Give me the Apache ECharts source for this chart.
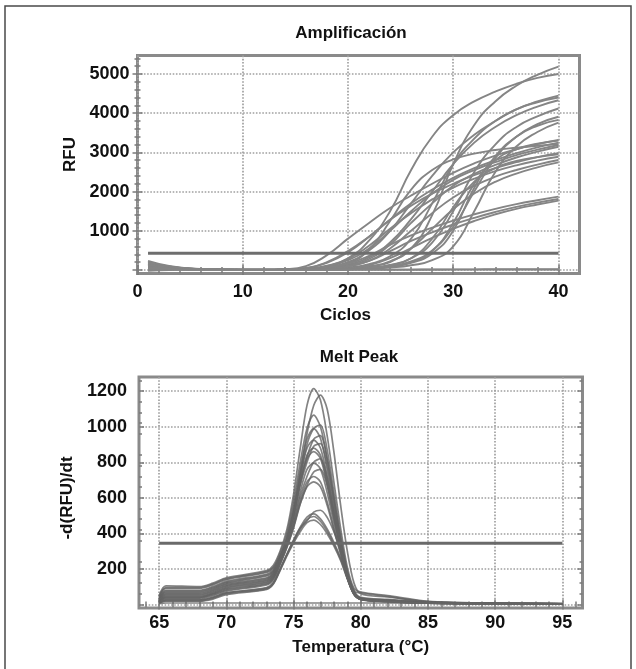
<!DOCTYPE html>
<html>
<head>
<meta charset="utf-8">
<title>Amplificación / Melt Peak</title>
<script src="https://cdn.jsdelivr.net/npm/echarts@6/dist/echarts.min.js"></script>
<style>
  html, body { margin: 0; padding: 0; background: #fff; }
  #main { width: 636px; height: 669px; }
</style>
</head>
<body>
<div id="main"></div>
<script>
// --- Amplificación: RFU por ciclo ---
const ampCycles = [1, 3, 5, 8, 12, 14, 16, 18, 20, 22, 24, 26, 28, 30, 32, 34, 36, 38, 40];
const ampCurves = [
  [150, 80, 30, 5, 5, 15, 40, 110, 300, 750, 1500, 2550, 3400, 3950, 4300, 4550, 4750, 4900, 5000],
  [100, 60, 25, 5, 0, 5, 10, 20, 40, 90, 220, 550, 1400, 2700, 3700, 4300, 4700, 4980, 5190],
  [120, 70, 30, 8, 5, 10, 30, 80, 200, 500, 1000, 1700, 2400, 3000, 3450, 3800, 4100, 4300, 4450],
  [80, 50, 20, 5, 0, 5, 10, 25, 60, 150, 350, 800, 1700, 2700, 3350, 3800, 4100, 4280, 4400],
  [60, 40, 15, 5, 0, 5, 15, 50, 130, 320, 700, 1300, 2000, 2700, 3250, 3650, 3950, 4170, 4330],
  [200, 90, 35, 8, 0, 5, 8, 15, 30, 60, 130, 300, 700, 1500, 2500, 3200, 3650, 3920, 4120],
  [90, 50, 20, 5, 0, 0, 5, 10, 25, 50, 100, 220, 500, 1100, 2000, 2850, 3400, 3720, 3910],
  [40, 30, 15, 5, 0, 0, 5, 10, 20, 40, 80, 180, 420, 1000, 2100, 2900, 3400, 3680, 3830],
  [110, 60, 25, 5, 0, 0, 5, 8, 15, 30, 60, 120, 250, 600, 1500, 2500, 3150, 3520, 3760],
  [130, 70, 25, 5, 5, 20, 100, 380, 800, 1200, 1580, 1900, 2200, 2480, 2720, 2920, 3080, 3210, 3315],
  [70, 40, 15, 5, 5, 10, 50, 180, 450, 850, 1280, 1700, 2050, 2350, 2600, 2800, 2980, 3130, 3250],
  [160, 80, 30, 8, 5, 5, 20, 80, 250, 550, 1000, 1500, 1950, 2300, 2550, 2750, 2930, 3070, 3190],
  [50, 30, 10, 3, 0, 5, 10, 40, 110, 280, 650, 1200, 1700, 2150, 2450, 2680, 2870, 3020, 3145],
  [180, 90, 35, 8, 5, 10, 45, 200, 480, 850, 1280, 1640, 1950, 2200, 2420, 2600, 2750, 2880, 2980],
  [90, 50, 20, 5, 0, 5, 25, 100, 280, 620, 1050, 1450, 1800, 2100, 2330, 2520, 2670, 2790, 2890],
  [30, 20, 10, 3, 0, 0, 10, 40, 100, 230, 550, 1000, 1450, 1850, 2150, 2380, 2550, 2690, 2805],
  [140, 70, 25, 5, 0, 0, 5, 15, 40, 90, 200, 550, 1050, 1550, 1950, 2250, 2460, 2620, 2745],
  [100, 55, 20, 5, 0, 5, 20, 60, 170, 520, 1250, 2050, 2550, 2820, 2970, 3060, 3120, 3170, 3210],
  [120, 60, 25, 5, 0, 5, 20, 70, 160, 360, 640, 880, 1080, 1260, 1420, 1560, 1680, 1780, 1870],
  [60, 35, 15, 5, 0, 5, 10, 30, 90, 230, 480, 740, 960, 1160, 1330, 1480, 1610, 1720, 1810],
  [20, 15, 8, 3, 0, 0, 5, 15, 40, 120, 300, 560, 820, 1050, 1250, 1420, 1560, 1670, 1770],
  [70, 40, 15, 5, 0, 0, 5, 10, 20, 40, 90, 200, 480, 1200, 2200, 2800, 3080, 3220, 3300],
  [50, 30, 12, 4, 0, 0, 5, 10, 20, 50, 120, 300, 800, 1600, 2250, 2600, 2780, 2880, 2950],
  [230, 100, 40, 10, 5, 5, 5, 5, 10, 10, 10, 10, 15, 15, 15, 20, 20, 20, 20],
  [-20, 0, 5, 5, 0, 0, 0, 5, 5, 5, 5, 5, 5, 10, 10, 10, 10, 10, 10]
];
const ampThreshold = 424;
const ampXTicks = [0, 10, 20, 30, 40];
const ampYTicks = [1000, 2000, 3000, 4000, 5000];

// --- Melt Peak: -d(RFU)/dt por temperatura ---
const meltTemps = [65, 65.5, 68, 69, 70, 73, 73.5, 74, 74.5, 75, 75.5, 76, 76.5, 77, 77.5, 78, 78.5, 79, 79.5, 80, 82, 85, 90, 95];
const meltCurves = [
  [50, 105, 100, 120, 150, 190, 220, 300, 420, 620, 880, 1120, 1215, 1150, 950, 690, 430, 210, 90, 70, 50, 18, 8, 5],
  [40, 95, 95, 115, 145, 185, 210, 270, 360, 520, 740, 960, 1120, 1178, 1100, 860, 560, 300, 120, 60, 42, 16, 8, 5],
  [45, 90, 90, 110, 140, 180, 205, 290, 400, 580, 800, 990, 1065, 1000, 820, 590, 360, 175, 75, 65, 45, 15, 7, 4],
  [35, 80, 80, 100, 130, 170, 195, 270, 370, 520, 720, 900, 990, 1010, 870, 630, 390, 190, 75, 40, 28, 13, 7, 4],
  [30, 75, 75, 95, 125, 165, 190, 275, 380, 550, 760, 930, 990, 935, 760, 540, 330, 160, 62, 36, 25, 12, 6, 4],
  [30, 70, 70, 90, 120, 160, 185, 265, 360, 505, 690, 830, 930, 950, 820, 600, 370, 180, 70, 35, 24, 12, 6, 3],
  [25, 65, 65, 85, 115, 150, 180, 265, 370, 530, 725, 880, 925, 880, 718, 510, 325, 158, 58, 34, 23, 11, 6, 3],
  [25, 60, 60, 80, 110, 145, 175, 255, 350, 490, 670, 800, 890, 905, 785, 575, 360, 175, 68, 33, 22, 11, 6, 3],
  [20, 55, 55, 75, 105, 140, 170, 255, 360, 510, 695, 840, 880, 840, 688, 492, 316, 154, 56, 32, 21, 10, 5, 3],
  [20, 50, 50, 70, 100, 135, 165, 250, 355, 500, 680, 820, 860, 822, 675, 485, 312, 152, 55, 31, 20, 10, 5, 3],
  [18, 45, 45, 65, 95, 130, 160, 240, 335, 460, 610, 720, 800, 820, 715, 530, 340, 170, 66, 30, 20, 10, 5, 3],
  [15, 40, 40, 60, 90, 125, 155, 240, 340, 470, 635, 760, 795, 762, 630, 460, 304, 152, 58, 29, 19, 9, 5, 3],
  [15, 40, 40, 60, 85, 120, 150, 230, 325, 440, 570, 670, 745, 760, 670, 505, 330, 165, 64, 30, 19, 9, 5, 2],
  [12, 35, 35, 55, 80, 115, 145, 230, 325, 440, 585, 690, 720, 690, 578, 430, 290, 148, 60, 29, 18, 9, 4, 2],
  [12, 30, 30, 50, 75, 110, 140, 225, 320, 430, 565, 662, 690, 662, 558, 418, 284, 146, 58, 28, 17, 8, 4, 2],
  [10, 25, 25, 40, 65, 95, 125, 200, 280, 360, 430, 470, 520, 530, 490, 410, 305, 180, 75, 30, 18, 8, 4, 2],
  [10, 25, 25, 40, 65, 92, 120, 200, 282, 362, 435, 492, 510, 482, 425, 350, 262, 155, 68, 29, 17, 7, 4, 2],
  [8, 20, 20, 35, 60, 88, 118, 195, 278, 352, 424, 478, 495, 468, 412, 340, 255, 150, 65, 28, 16, 7, 3, 2],
  [8, 18, 18, 30, 55, 85, 115, 190, 272, 345, 410, 460, 475, 450, 398, 330, 248, 145, 62, 27, 16, 7, 3, 2],
  [5, 8, 8, 8, 8, 8, 8, 8, 8, 8, 8, 8, 8, 8, 8, 8, 8, 8, 8, 8, 8, 7, 6, 5]
];
const meltThreshold = 345;
const meltXTicks = [65, 70, 75, 80, 85, 90, 95];
const meltYTicks = [200, 400, 600, 800, 1000, 1200];

const FONT = 'Liberation Sans, Arial, sans-serif';
const labelFont = { fontFamily: FONT, fontWeight: 'bold', fontSize: 18, color: '#111' };
const nameFont = { fontFamily: FONT, fontWeight: 'bold', fontSize: 17, color: '#111' };
const tickLine = { color: '#7a7a7a', width: 1.5 };
const dotted = { show: true, lineStyle: { color: '#a0a0a0', width: 1.7, type: [1.6, 1.6] } };

// eje con etiquetas + eje "espejo" solo con marcas (como el marco del equipo)
function axisPair(dim, gridIndex, min, max, ticks, labels, extra) {
  const pos = dim === 'x' ? ['bottom', 'top'] : ['left', 'right'];
  const base = {
    type: 'value', gridIndex: gridIndex, min: min, max: max,
    axisLine: { show: false },
    axisTick: { inside: true, length: 5, customValues: ticks, lineStyle: tickLine },
    minorTick: { show: true, splitNumber: 5, length: 3, lineStyle: tickLine }
  };
  const main = Object.assign({}, base, {
    position: pos[0],
    axisLabel: Object.assign({ customValues: labels, formatter: v => String(v) },
      labelFont, { margin: extra.margin }),
    splitLine: dotted,
    name: extra.name,
    nameLocation: 'middle',
    nameGap: extra.nameGap,
    nameTextStyle: Object.assign({}, nameFont, { padding: extra.namePad || 0 })
  });
  const mirror = Object.assign({}, base, {
    position: pos[1],
    axisLabel: { show: false },
    splitLine: { show: false }
  });
  return [main, mirror];
}

function curveSeries(xs, ys, xi, yi, style) {
  return {
    type: 'line', xAxisIndex: xi, yAxisIndex: yi,
    data: xs.map((x, j) => [x, ys[j]]),
    smooth: style.smooth,
    showSymbol: false, silent: true,
    lineStyle: { color: style.color, width: style.width, opacity: style.opacity }
  };
}

const series = [];
ampCurves.forEach(vals => series.push(curveSeries(ampCycles, vals, 0, 0,
  { smooth: 0.5, color: '#858585', width: 1.9, opacity: 1 })));
series.push(curveSeries([1, 40], [ampThreshold, ampThreshold], 0, 0,
  { smooth: false, color: '#6e6e6e', width: 3, opacity: 1 }));

meltCurves.forEach(vals => series.push(curveSeries(meltTemps, vals, 2, 2,
  { smooth: 0.3, color: '#646464', width: 1.7, opacity: 0.8 })));
series.push(curveSeries([65, 95], [meltThreshold, meltThreshold], 2, 2,
  { smooth: false, color: '#6a6a6a', width: 3, opacity: 1 }));

const chart = echarts.init(document.getElementById('main'));
chart.setOption({
  animation: false,
  backgroundColor: '#fff',
  title: [
    { text: 'Amplificación', left: 351, top: 25, textAlign: 'center', padding: 0,
      textStyle: nameFont },
    { text: 'Melt Peak', left: 359, top: 349, textAlign: 'center', padding: 0,
      textStyle: nameFont }
  ],
  graphic: [{
    type: 'rect', silent: true, z: -10,
    shape: { x: 5, y: 6, width: 626, height: 700 },
    style: { fill: 'none', stroke: '#4a4a4a', lineWidth: 1.5 }
  }],
  grid: [
    { left: 137.5, right: 56.5, top: 55.6, bottom: 395.5, show: true,
      borderColor: '#8a8a8a', borderWidth: 3, backgroundColor: '#fff' },
    { left: 139, right: 53.5, top: 377, bottom: 61, show: true,
      borderColor: '#8a8a8a', borderWidth: 3, backgroundColor: '#fff' }
  ],
  xAxis: [].concat(
    axisPair('x', 0, 0, 42, ampXTicks, ampXTicks,
      { margin: 10, name: 'Ciclos', nameGap: 33, namePad: [0, 26, 0, 0] }),
    axisPair('x', 1, 63.5, 96.5, meltXTicks, meltXTicks,
      { margin: 6, name: 'Temperatura (°C)', nameGap: 31 })
  ),
  yAxis: [].concat(
    axisPair('y', 0, -90, 5470, [0].concat(ampYTicks), ampYTicks,
      { margin: 8, name: 'RFU', nameGap: 58, namePad: [0, 0, 0, 20] }),
    axisPair('y', 1, -20, 1280, [0].concat(meltYTicks), meltYTicks,
      { margin: 12, name: '-d(RFU)/dt', nameGap: 53, namePad: [0, 11, 0, 0] })
  ),
  series: series
});
</script>
</body>
</html>
